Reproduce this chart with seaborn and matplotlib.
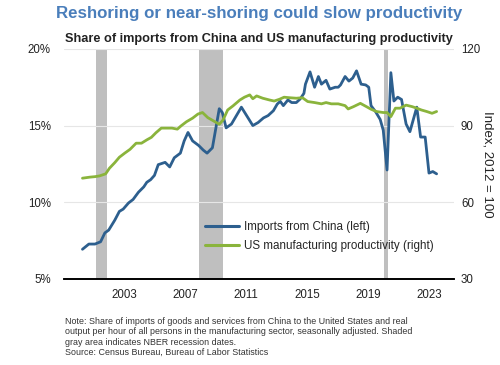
import pandas as pd
import seaborn as sns
import matplotlib.pyplot as plt
from matplotlib.lines import Line2D

# 1. Data (decimal years)
china_year = [2000.28, 2000.7, 2001.1, 2001.47, 2001.75, 2002.0, 2002.4, 2002.7, 2002.95,
              2003.3, 2003.6, 2003.95, 2004.3, 2004.5, 2004.75, 2005.0, 2005.25, 2005.7,
              2006.0, 2006.3, 2006.7, 2006.95, 2007.2, 2007.5, 2007.9, 2008.2, 2008.45,
              2008.8, 2009.25, 2009.45, 2009.7, 2010.05, 2010.7, 2011.45, 2011.8, 2012.15,
              2012.45, 2012.8, 2013.05, 2013.25, 2013.45, 2013.75, 2014.0, 2014.3, 2014.55,
              2014.8, 2014.9, 2015.2, 2015.5, 2015.75, 2015.95, 2016.25, 2016.5, 2016.85,
              2017.05, 2017.2, 2017.5, 2017.75, 2018.0, 2018.25, 2018.55, 2018.85, 2019.05,
              2019.2, 2019.5, 2019.8, 2020.0, 2020.25, 2020.5, 2020.7, 2020.95, 2021.2,
              2021.5, 2021.75, 2022.2, 2022.45, 2022.75, 2023.0, 2023.25, 2023.5]
china_share = [6.93, 7.27, 7.27, 7.42, 8.0, 8.18, 8.83, 9.4, 9.55,
               9.95, 10.18, 10.65, 11.0, 11.3, 11.47, 11.75, 12.45, 12.6,
               12.3, 12.9, 13.2, 14.0, 14.55, 14.0, 13.7, 13.4, 13.2,
               13.55, 16.1, 15.85, 14.85, 15.1, 16.2, 15.0, 15.2, 15.5,
               15.65, 15.97, 16.4, 16.58, 16.3, 16.67, 16.5, 16.5, 16.73,
               17.1, 17.7, 18.5, 17.5, 18.2, 17.7, 17.95, 17.38, 17.5,
               17.5, 17.65, 18.2, 17.9, 18.1, 18.57, 17.7, 17.65, 17.5,
               16.3, 15.9, 15.4, 14.7, 12.1, 18.45, 16.6, 16.85, 16.7,
               15.1, 14.6, 16.2, 14.25, 14.25, 11.9, 12.0, 11.85]

prod_year = [2000.28, 2000.75, 2001.1, 2001.4, 2001.8, 2002.05, 2002.4, 2002.7, 2003.05,
             2003.4, 2003.8, 2004.15, 2004.5, 2004.8, 2005.1, 2005.45, 2005.9, 2006.15,
             2006.5, 2006.75, 2007.1, 2007.5, 2007.85, 2008.15, 2008.5, 2008.85, 2009.25,
             2009.5, 2009.8, 2010.15, 2010.6, 2010.9, 2011.25, 2011.45, 2011.7, 2012.1,
             2012.55, 2012.85, 2013.2, 2013.5, 2013.85, 2014.3, 2014.7, 2015.05, 2015.5,
             2015.95, 2016.25, 2016.6, 2017.05, 2017.5, 2017.7, 2018.05, 2018.5, 2018.9,
             2019.2, 2019.55, 2020.0, 2020.25, 2020.5, 2020.8, 2021.1, 2021.5, 2021.9,
             2022.2, 2022.5, 2022.85, 2023.2, 2023.5]
productivity = [69.4, 69.8, 70.0, 70.3, 71.1, 73.3, 75.5, 77.6, 79.2,
                80.7, 83.1, 83.1, 84.4, 85.4, 87.2, 89.0, 89.0, 89.0,
                88.6, 89.9, 91.5, 92.9, 94.5, 95.1, 93.1, 91.9, 90.5,
                92.2, 96.1, 97.7, 100.0, 101.1, 102.0, 100.5, 101.6, 100.7,
                100.0, 99.6, 100.3, 101.1, 100.9, 100.7, 100.9, 99.4, 99.0,
                98.5, 99.0, 98.5, 98.5, 97.8, 96.5, 97.4, 98.7, 97.4,
                96.4, 95.5, 95.1, 95.1, 93.5, 96.8, 96.8, 98.0, 97.4,
                96.8, 96.1, 95.5, 94.8, 95.5]

recession_start = [2001.16, 2007.92, 2020.05]
recession_end = [2001.88, 2009.49, 2020.30]
year_ticks = [2003, 2007, 2011, 2015, 2019, 2023]

china = pd.DataFrame({"Year": china_year, "Share": china_share})
prod = pd.DataFrame({"Year": prod_year, "Index": productivity})

# 2. Style
sns.set_style("white")
plt.rcParams["font.family"] = ["Liberation Sans", "DejaVu Sans"]

blue = "#2D5F8E"
green = "#8AB43C"
text_col = "#222222"

fig = plt.figure(figsize=(5, 3.65), dpi=100)
ax = fig.add_axes([0.128, 0.236, 0.78, 0.63])
ax2 = ax.twinx()

# recession shading
for s, e in zip(recession_start, recession_end):
    ax.axvspan(s, e, color="#BFBFBF", lw=0, zorder=0)

sns.lineplot(data=china, x="Year", y="Share", color=blue, lw=2, ax=ax, legend=False)
sns.lineplot(data=prod, x="Year", y="Index", color=green, lw=2, ax=ax2, legend=False)

# axes
ax.set_xlim(1999.07, 2024.64)
ax.set_ylim(5, 20)
ax.set_yticks([5, 10, 15, 20])
ax.set_yticklabels(["5%", "10%", "15%", "20%"])
ax2.set_ylim(30, 120)
ax2.set_yticks([30, 60, 90, 120])
ax.set_xticks(year_ticks)
ax.set_xticklabels([str(y) for y in year_ticks])
ax.set_xlabel("")
ax.set_ylabel("")
ax2.set_xlabel("")
ax2.set_ylabel("Index, 2012 = 100", rotation=270, fontsize=9.5, color=text_col, va="center")
ax2.yaxis.set_label_coords(1.085, 0.5)

ax.grid(axis="y", color="#E6E6E6", lw=0.8)
ax.set_axisbelow(True)
for a in (ax, ax2):
    for side in ["top", "left", "right"]:
        a.spines[side].set_visible(False)
    a.spines["bottom"].set_color("black")
    a.spines["bottom"].set_linewidth(1.2)
ax.tick_params(axis="y", length=0, labelsize=8.3, pad=9.5, colors=text_col)
ax2.tick_params(axis="y", length=0, labelsize=8.3, pad=5, colors=text_col)
ax.tick_params(axis="x", length=4, width=0.8, direction="out", labelsize=8.3, colors=text_col)

# legend
handles = [Line2D([0], [0], color=blue, lw=2.2), Line2D([0], [0], color=green, lw=2.2)]
ax2.legend(handles, ["Imports from China (left)", "US manufacturing productivity (right)"],
           loc="upper left", bbox_to_anchor=(0.349, 0.27), borderaxespad=0, frameon=False,
           fontsize=8.4, handlelength=2.9, labelspacing=0.55, handletextpad=0.5)

# titles and note
fig.text(0.519, 0.962, "Reshoring or near-shoring could slow productivity", ha="center",
         va="center", fontsize=12.2, fontweight="bold", color="#4A7EBB")
fig.text(0.518, 0.893, "Share of imports from China and US manufacturing productivity",
         ha="center", va="center", fontsize=9.2, fontweight="bold", color=text_col)
fig.text(0.13, 0.132,
         "Note: Share of imports of goods and services from China to the United States and real\n"
         "output per hour of all persons in the manufacturing sector, seasonally adjusted. Shaded\n"
         "gray area indicates NBER recession dates.\n"
         "Source: Census Bureau, Bureau of Labor Statistics",
         ha="left", va="top", fontsize=6.4, color="#333333", linespacing=1.2)

fig.savefig("out.png", dpi=100)
